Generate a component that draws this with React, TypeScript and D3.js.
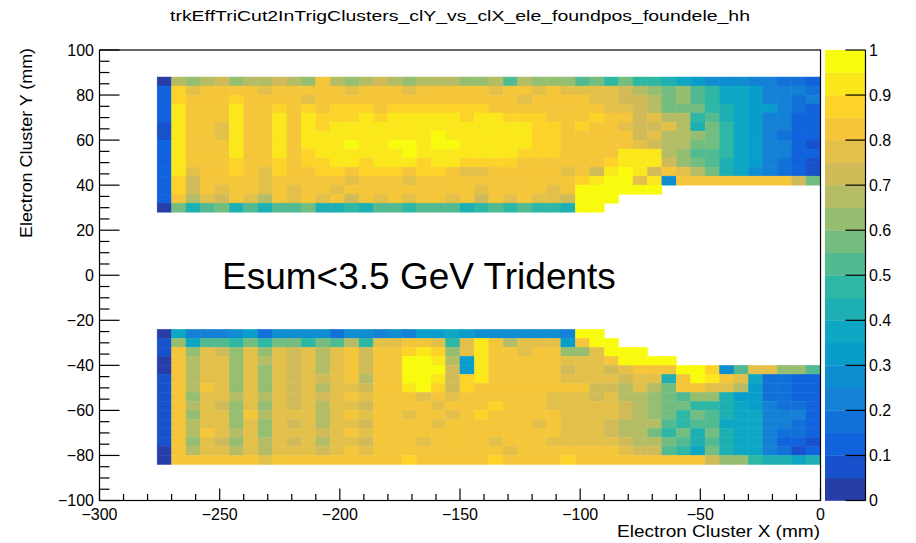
import React from "react";
import * as d3 from "d3";

const TITLE = "trkEffTriCut2InTrigClusters_clY_vs_clX_ele_foundpos_foundele_hh";
const X_TITLE = "Electron Cluster X (mm)";
const Y_TITLE = "Electron Cluster Y (mm)";
const NOTE = "Esum<3.5 GeV Tridents";

const X_DOMAIN = [-300, 0];
const Y_DOMAIN = [-100, 100];
const X_TICKS = [-300, -250, -200, -150, -100, -50, 0];
const Y_TICKS = [-100, -80, -60, -40, -20, 0, 20, 40, 60, 80, 100];
const Z_TICKS = [0, 0.1, 0.2, 0.3, 0.4, 0.5, 0.6, 0.7, 0.8, 0.9, 1];
const N_CONTOURS = 20;

// histogram binning (mm)
const X_BIN_START = -276;
const X_BIN_WIDTH = 6;
const Y_BIN_HEIGHT = 4;
const TOP_BAND_TOP = 88;
const BOTTOM_BAND_TOP = -24;

// efficiency per cell: char index k in CODES -> value (k-0.5)/20 ; '.' = empty bin
const CODES = "0123456789abcdefghijk";

// upper band, rows from y=88 (top) down to y=28, columns x=-276 .. 0 (6 mm)
const TOP_ROWS = [
  "1edefdeefedhedefedeeeddebedddbcacaa98766655443",
  "3ighhhhghhhhhghhhghhhhhghhghggggfedcdba8875554",
  "3ihhhihhhhghhhhhhhhhhhhhhghhhhggffecdba8875545",
  "3jhhhjhhihihiiihiiiiiiihhhhhhhhggfeccca9877543",
  "3jhhhjhhjhjiiijijjjjjijjiiihhhihhfgeeab9875533",
  "2jhhgjhhjhjijjjjjjjjjjjjjjiihihhgffge9ca875533",
  "2jhhgjhhjhjjjjjjjjjkjjjjjjiihhhhhfgeedca875433",
  "3jhhhjhhjhjjjkjjkkjkkjjjjjiihhhhhgfeecca875532",
  "3jhhhjhhjhijjjjjjkjjjjjjjiiihhhhjjjedbba875533",
  "3jhhhihhihiijjijjjijjiiiihhhhhhijjjfdcb9875432",
  "3jghhihgihhiihiiihiihgghhhhhghfjkjfhgec9865432",
  "3ifhhhhghhhhhghhhghhhhhhhhhhhijkkgj6hhhhhhhhfc",
  "3ifhghhghghhghhhhhhhhhghhhhghkkkkkk...........",
  "3hegfhgehghghfhghghhghfhghggfkkk..............",
  "1c9bc9b9bbc99a9bbabbb9ababaa9kk...............",
];

// lower band, rows from y=-24 (top) down to y=-84
const BOTTOM_ROWS = [
  "18555674666646656577876666665kk...............",
  "2d8bbacaccacbeagghhgagjheggg7hkk..............",
  "2hdgfdgdgfgeghfhhijidgjhhghhddgkkk............",
  "1heggdgegfgeghfhhkkje7jhhhhhggghkkkk..........",
  "1heggdgdgfgeghfhhkkkf7jhhhhhfggfghhhkki6bggddb",
  "2heggdgdgfgfghehhkkjfijhhhhhggggfgg9hkjhg84433",
  "2hehgdgdgfgeggfhhjkifihhhhhhhhffegechhgge74433",
  "2hdggegegfgfghghhhghghhhhhhgggfgeedcbdd9774433",
  "2hegfdgdgfgeggfhhhhghhhihhhgggggfedccaa9875443",
  "2hdggdhegggeghghhghhghihhhhhggggfedcacb9885553",
  "2heggdgdgfgeggfhhhhghhhhhhghgggfeeebabb8885543",
  "2hehgegdgggfghghhhhhhhhhhhhhgggfeecac9c9885443",
  "2hdgfdgegfgeggfhhhghhhhghhhgggggfeecb9b9885332",
  "1heggegegggfghghhhhhhhhhghhhhhhhgffba8c9885423",
  "1hhhhhhghhhhhhhhhihhhhhihhhhihhhhhhhhhfdda9989",
];

// ROOT kBird palette
const BIRD_STOPS = [0, 0.125, 0.25, 0.375, 0.5, 0.625, 0.75, 0.875, 1];
const BIRD_R = [0.2082, 0.0592, 0.078, 0.0232, 0.1802, 0.5301, 0.8186, 0.9956, 0.9764];
const BIRD_G = [0.1664, 0.3599, 0.5041, 0.6419, 0.7178, 0.7492, 0.7328, 0.7862, 0.9832];
const BIRD_B = [0.5293, 0.8684, 0.8385, 0.7914, 0.6425, 0.4662, 0.3499, 0.1968, 0.0539];

function birdColor(t: number): string {
  const tt = Math.max(0, Math.min(1, t));
  let i = 0;
  while (i < BIRD_STOPS.length - 2 && tt > BIRD_STOPS[i + 1]) i++;
  const f = (tt - BIRD_STOPS[i]) / (BIRD_STOPS[i + 1] - BIRD_STOPS[i]);
  const r = BIRD_R[i] + f * (BIRD_R[i + 1] - BIRD_R[i]);
  const g = BIRD_G[i] + f * (BIRD_G[i + 1] - BIRD_G[i]);
  const b = BIRD_B[i] + f * (BIRD_B[i + 1] - BIRD_B[i]);
  return d3.rgb(r * 255, g * 255, b * 255).formatHex();
}

function contourColor(bin: number): string {
  const ci = Math.floor((bin + 0.99) * 255 / N_CONTOURS);
  return birdColor(ci / 254);
}

function valueColor(v: number): string {
  const bin = Math.max(0, Math.min(N_CONTOURS - 1, Math.floor(v * N_CONTOURS)));
  return contourColor(bin);
}

function decode(ch: string): number {
  const k = CODES.indexOf(ch);
  return k <= 0 ? 0 : (k - 0.5) / 20;
}

const FONT = "'Liberation Sans', Arial, Helvetica, sans-serif";
const fmt = (v: number) => String(v).replace("-", "\u2212");

export default function App() {
  const x = d3.scaleLinear().domain(X_DOMAIN).range([99.5, 820.5]);
  const y = d3.scaleLinear().domain(Y_DOMAIN).range([500.5, 50]);
  const z = d3.scaleLinear().domain([0, 1]).range([500.5, 50]);

  const cells: any[] = [];
  const addBand = (rows: string[], top: number, tag: string) => {
    rows.forEach((row, r) => {
      for (let c = 0; c < row.length; c++) {
        const ch = row[c];
        if (ch === ".") continue;
        const x0 = X_BIN_START + c * X_BIN_WIDTH;
        const yTop = top - r * Y_BIN_HEIGHT;
        const col = valueColor(decode(ch));
        cells.push({
          key: `${tag}-${r}-${c}`,
          x: x(x0),
          w: x(x0 + X_BIN_WIDTH) - x(x0),
          y: y(yTop),
          h: y(yTop - Y_BIN_HEIGHT) - y(yTop),
          color: col,
        });
      }
    });
  };
  addBand(TOP_ROWS, TOP_BAND_TOP, "t");
  addBand(BOTTOM_ROWS, BOTTOM_BAND_TOP, "b");

  const xMinor = d3.range(-300, 1, 10).filter((v) => v % 50 !== 0);
  const yMinor = d3.range(-100, 101, 5).filter((v) => v % 20 !== 0);
  const bands = d3.range(N_CONTOURS);

  const [px0, px1] = x.range();
  const [py0, py1] = y.range();
  const barX0 = 825;
  const barX1 = 865.5;

  return (
    <svg
      width={916}
      height={543}
      style={{ position: "absolute", left: 0, top: 0, background: "#fff" }}
      fontFamily={FONT}
    >
      <rect x={0} y={0} width={916} height={543} fill="#fff" />
      <text x={460} y={21} fontSize={15.5} textAnchor="middle" textLength={580} lengthAdjust="spacingAndGlyphs">
        {TITLE}
      </text>

      {cells.map((d) => (
        <rect key={d.key} x={d.x} y={d.y} width={d.w} height={d.h} fill={d.color} stroke={d.color} strokeWidth={0.5} />
      ))}

      {/* frame */}
      <rect x={px0} y={py1} width={px1 - px0} height={py0 - py1} fill="none" stroke="#000" strokeWidth={1.2} />

      {/* y ticks */}
      {Y_TICKS.map((v) => (
        <g key={`yt${v}`}>
          <line x1={px0} x2={px0 + 20} y1={y(v)} y2={y(v)} stroke="#000" strokeWidth={1.2} />
          <text x={94} y={y(v)} dy="0.36em" fontSize={16} textAnchor="end">{fmt(v)}</text>
        </g>
      ))}
      {yMinor.map((v) => (
        <line key={`ym${v}`} x1={px0} x2={px0 + 10} y1={y(v)} y2={y(v)} stroke="#000" strokeWidth={1.2} />
      ))}

      {/* x ticks */}
      {X_TICKS.map((v) => (
        <g key={`xt${v}`}>
          <line x1={x(v)} x2={x(v)} y1={py0} y2={py0 - 12} stroke="#000" strokeWidth={1.2} />
          <text x={x(v)} y={519.5} fontSize={16} textAnchor="middle">{fmt(v)}</text>
        </g>
      ))}
      {xMinor.map((v) => (
        <line key={`xm${v}`} x1={x(v)} x2={x(v)} y1={py0} y2={py0 - 6.5} stroke="#000" strokeWidth={1.2} />
      ))}

      {/* axis titles */}
      <text x={820} y={537} fontSize={17} textAnchor="end" textLength={203} lengthAdjust="spacingAndGlyphs">
        {X_TITLE}
      </text>
      <text
        transform="translate(31.5,48) rotate(-90)"
        fontSize={17}
        textAnchor="end"
        textLength={190}
        lengthAdjust="spacingAndGlyphs"
      >
        {Y_TITLE}
      </text>

      {/* palette */}
      {bands.map((i) => (
        <rect
          key={`pb${i}`}
          x={barX0}
          y={z((i + 1) / N_CONTOURS)}
          width={barX1 - barX0}
          height={z(i / N_CONTOURS) - z((i + 1) / N_CONTOURS) + 0.3}
          fill={contourColor(i)}
        />
      ))}
      <line x1={barX1} x2={barX1} y1={z(0)} y2={z(1)} stroke="#000" strokeWidth={1.2} />
      {Z_TICKS.map((v) => (
        <g key={`zt${v}`}>
          <line x1={barX1 - 20} x2={barX1} y1={z(v)} y2={z(v)} stroke="#000" strokeWidth={1.2} />
          <text x={869} y={z(v)} dy="0.36em" fontSize={16} textAnchor="start">
            {v === 0 ? "0" : v === 1 ? "1" : v.toFixed(1)}
          </text>
        </g>
      ))}

      {/* annotation */}
      <text x={222} y={289} fontSize={37}>{NOTE}</text>
    </svg>
  );
}
